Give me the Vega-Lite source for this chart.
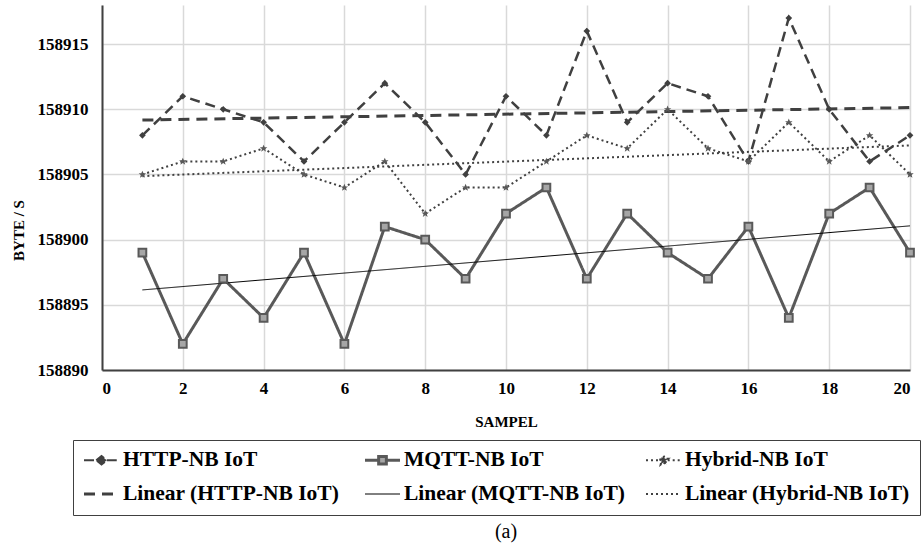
{
  "$schema": "https://vega.github.io/schema/vega-lite/v6.json",
  "autosize": "none",
  "width": 808,
  "height": 365,
  "padding": {"left": 102, "top": 5, "right": 11, "bottom": 179},
  "background": "white",
  "title": {"text": "(a)", "orient": "bottom", "font": "Liberation Serif", "fontSize": 20, "fontWeight": "normal", "color": "black", "offset": 6},
  "config": {
    "view": {"stroke": null},
    "axis": {"labelFont": "Liberation Serif", "labelFontWeight": "bold", "labelColor": "black", "titleFont": "Liberation Serif", "titleFontWeight": "bold", "titleColor": "black", "gridColor": "#d9d9d9", "gridWidth": 1.5, "domainColor": "#404040", "domainWidth": 2, "ticks": false}
  },
  "datasets": {"d": [
    {"x":1,"series":"HTTP-NB IoT","trend":"Linear (HTTP-NB IoT)","value":158908},
    {"x":2,"series":"HTTP-NB IoT","trend":"Linear (HTTP-NB IoT)","value":158911},
    {"x":3,"series":"HTTP-NB IoT","trend":"Linear (HTTP-NB IoT)","value":158910},
    {"x":4,"series":"HTTP-NB IoT","trend":"Linear (HTTP-NB IoT)","value":158909},
    {"x":5,"series":"HTTP-NB IoT","trend":"Linear (HTTP-NB IoT)","value":158906},
    {"x":6,"series":"HTTP-NB IoT","trend":"Linear (HTTP-NB IoT)","value":158909},
    {"x":7,"series":"HTTP-NB IoT","trend":"Linear (HTTP-NB IoT)","value":158912},
    {"x":8,"series":"HTTP-NB IoT","trend":"Linear (HTTP-NB IoT)","value":158909},
    {"x":9,"series":"HTTP-NB IoT","trend":"Linear (HTTP-NB IoT)","value":158905},
    {"x":10,"series":"HTTP-NB IoT","trend":"Linear (HTTP-NB IoT)","value":158911},
    {"x":11,"series":"HTTP-NB IoT","trend":"Linear (HTTP-NB IoT)","value":158908},
    {"x":12,"series":"HTTP-NB IoT","trend":"Linear (HTTP-NB IoT)","value":158916},
    {"x":13,"series":"HTTP-NB IoT","trend":"Linear (HTTP-NB IoT)","value":158909},
    {"x":14,"series":"HTTP-NB IoT","trend":"Linear (HTTP-NB IoT)","value":158912},
    {"x":15,"series":"HTTP-NB IoT","trend":"Linear (HTTP-NB IoT)","value":158911},
    {"x":16,"series":"HTTP-NB IoT","trend":"Linear (HTTP-NB IoT)","value":158906},
    {"x":17,"series":"HTTP-NB IoT","trend":"Linear (HTTP-NB IoT)","value":158917},
    {"x":18,"series":"HTTP-NB IoT","trend":"Linear (HTTP-NB IoT)","value":158910},
    {"x":19,"series":"HTTP-NB IoT","trend":"Linear (HTTP-NB IoT)","value":158906},
    {"x":20,"series":"HTTP-NB IoT","trend":"Linear (HTTP-NB IoT)","value":158908},
    {"x":1,"series":"MQTT-NB IoT","trend":"Linear (MQTT-NB IoT)","value":158899},
    {"x":2,"series":"MQTT-NB IoT","trend":"Linear (MQTT-NB IoT)","value":158892},
    {"x":3,"series":"MQTT-NB IoT","trend":"Linear (MQTT-NB IoT)","value":158897},
    {"x":4,"series":"MQTT-NB IoT","trend":"Linear (MQTT-NB IoT)","value":158894},
    {"x":5,"series":"MQTT-NB IoT","trend":"Linear (MQTT-NB IoT)","value":158899},
    {"x":6,"series":"MQTT-NB IoT","trend":"Linear (MQTT-NB IoT)","value":158892},
    {"x":7,"series":"MQTT-NB IoT","trend":"Linear (MQTT-NB IoT)","value":158901},
    {"x":8,"series":"MQTT-NB IoT","trend":"Linear (MQTT-NB IoT)","value":158900},
    {"x":9,"series":"MQTT-NB IoT","trend":"Linear (MQTT-NB IoT)","value":158897},
    {"x":10,"series":"MQTT-NB IoT","trend":"Linear (MQTT-NB IoT)","value":158902},
    {"x":11,"series":"MQTT-NB IoT","trend":"Linear (MQTT-NB IoT)","value":158904},
    {"x":12,"series":"MQTT-NB IoT","trend":"Linear (MQTT-NB IoT)","value":158897},
    {"x":13,"series":"MQTT-NB IoT","trend":"Linear (MQTT-NB IoT)","value":158902},
    {"x":14,"series":"MQTT-NB IoT","trend":"Linear (MQTT-NB IoT)","value":158899},
    {"x":15,"series":"MQTT-NB IoT","trend":"Linear (MQTT-NB IoT)","value":158897},
    {"x":16,"series":"MQTT-NB IoT","trend":"Linear (MQTT-NB IoT)","value":158901},
    {"x":17,"series":"MQTT-NB IoT","trend":"Linear (MQTT-NB IoT)","value":158894},
    {"x":18,"series":"MQTT-NB IoT","trend":"Linear (MQTT-NB IoT)","value":158902},
    {"x":19,"series":"MQTT-NB IoT","trend":"Linear (MQTT-NB IoT)","value":158904},
    {"x":20,"series":"MQTT-NB IoT","trend":"Linear (MQTT-NB IoT)","value":158899},
    {"x":1,"series":"Hybrid-NB IoT","trend":"Linear (Hybrid-NB IoT)","value":158905},
    {"x":2,"series":"Hybrid-NB IoT","trend":"Linear (Hybrid-NB IoT)","value":158906},
    {"x":3,"series":"Hybrid-NB IoT","trend":"Linear (Hybrid-NB IoT)","value":158906},
    {"x":4,"series":"Hybrid-NB IoT","trend":"Linear (Hybrid-NB IoT)","value":158907},
    {"x":5,"series":"Hybrid-NB IoT","trend":"Linear (Hybrid-NB IoT)","value":158905},
    {"x":6,"series":"Hybrid-NB IoT","trend":"Linear (Hybrid-NB IoT)","value":158904},
    {"x":7,"series":"Hybrid-NB IoT","trend":"Linear (Hybrid-NB IoT)","value":158906},
    {"x":8,"series":"Hybrid-NB IoT","trend":"Linear (Hybrid-NB IoT)","value":158902},
    {"x":9,"series":"Hybrid-NB IoT","trend":"Linear (Hybrid-NB IoT)","value":158904},
    {"x":10,"series":"Hybrid-NB IoT","trend":"Linear (Hybrid-NB IoT)","value":158904},
    {"x":11,"series":"Hybrid-NB IoT","trend":"Linear (Hybrid-NB IoT)","value":158906},
    {"x":12,"series":"Hybrid-NB IoT","trend":"Linear (Hybrid-NB IoT)","value":158908},
    {"x":13,"series":"Hybrid-NB IoT","trend":"Linear (Hybrid-NB IoT)","value":158907},
    {"x":14,"series":"Hybrid-NB IoT","trend":"Linear (Hybrid-NB IoT)","value":158910},
    {"x":15,"series":"Hybrid-NB IoT","trend":"Linear (Hybrid-NB IoT)","value":158907},
    {"x":16,"series":"Hybrid-NB IoT","trend":"Linear (Hybrid-NB IoT)","value":158906},
    {"x":17,"series":"Hybrid-NB IoT","trend":"Linear (Hybrid-NB IoT)","value":158909},
    {"x":18,"series":"Hybrid-NB IoT","trend":"Linear (Hybrid-NB IoT)","value":158906},
    {"x":19,"series":"Hybrid-NB IoT","trend":"Linear (Hybrid-NB IoT)","value":158908},
    {"x":20,"series":"Hybrid-NB IoT","trend":"Linear (Hybrid-NB IoT)","value":158905}
  ]},
  "data": {"name": "d"},
  "encoding": {
    "x": {"field": "x", "type": "quantitative",
      "scale": {"domain": [0, 20], "nice": false, "zero": false},
      "axis": {"values": [0,2,4,6,8,10,12,14,16,18,20], "title": "SAMPEL", "titleFontSize": 15, "titlePadding": 18, "labelFontSize": 17, "labelPadding": 10, "grid": true}},
    "y": {"field": "value", "type": "quantitative",
      "scale": {"domain": [158890, 158918], "nice": false, "zero": false},
      "axis": {"values": [158890,158895,158900,158905,158910,158915], "format": "d", "title": "BYTE / S", "titleFontSize": 15, "titleX": -84, "titleY": 225, "titleBaseline": "middle", "labelFontSize": 17, "labelPadding": 14, "grid": true}}
  },
  "layer": [
    {
      "transform": [{"filter": "datum.series === 'HTTP-NB IoT'"}],
      "mark": {"type": "line", "color": "#404040", "strokeWidth": 2.5},
      "encoding": {
        "strokeDash": {"field": "series", "type": "nominal",
          "scale": {"domain": ["HTTP-NB IoT","MQTT-NB IoT","Hybrid-NB IoT","Linear (HTTP-NB IoT)","Linear (MQTT-NB IoT)","Linear (Hybrid-NB IoT)"],
                    "range": [[10,6],[1,0],[2,3],[11,7],[1,0],[2,3]]},
          "legend": {"title": null, "orient": "none", "legendX": -29, "legendY": 435, "direction": "horizontal", "columns": 3, "gridAlign": "all",
            "columnPadding": 16, "rowPadding": 12, "padding": 10, "strokeColor": "#404040", "fillColor": "white",
            "labelFont": "Liberation Serif", "labelFontWeight": "bold", "labelFontSize": 21.5, "labelColor": "black", "labelOffset": 3, "labelLimit": 400,
            "symbolSize": 1225, "symbolStrokeColor": "#404040", "symbolStrokeWidth": 2, "clipHeight": 20,
            "encode": {"symbols": {"update": {
              "size": {"value": 1225},
              "shape": {"signal": "(datum.value === 'HTTP-NB IoT' ? 'M-1,0H-0.3M0.3,0H1M-0.3,0L0,-0.24L0.3,0L0,0.24Z' : datum.value === 'MQTT-NB IoT' ? 'M-1,0H-0.22M0.22,0H1M-0.22,-0.22H0.22V0.22H-0.22Z' : datum.value === 'Hybrid-NB IoT' ? 'M-1,0H-0.24M0.24,0H1M0,-0.26L0.08,-0.09L0.26,-0.09L0.11,0.03L0.16,0.24L0,0.12L-0.16,0.24L-0.11,0.03L-0.26,-0.09L-0.08,-0.09Z' : 'M-1,0H1')"},
              "stroke": {"signal": "(datum.value === 'Linear (MQTT-NB IoT)' ? '#000000' : datum.value === 'MQTT-NB IoT' ? '#595959' : '#404040')"},
              "fill": {"signal": "(datum.value === 'MQTT-NB IoT' ? '#a6a6a6' : (datum.value === 'HTTP-NB IoT' || datum.value === 'Hybrid-NB IoT') ? '#404040' : 'transparent')"},
              "strokeWidth": {"signal": "(datum.value === 'Linear (MQTT-NB IoT)' ? 1 : (datum.value === 'Linear (HTTP-NB IoT)' || datum.value === 'MQTT-NB IoT') ? 3 : 2)"},
              "strokeDash": {"signal": "((datum.value === 'HTTP-NB IoT' || datum.value === 'MQTT-NB IoT' || datum.value === 'Linear (MQTT-NB IoT)') ? [1,0] : datum.value === 'Linear (HTTP-NB IoT)' ? [11,7] : [2,3])"}
            }}}
          }}
      }
    },
    {
      "transform": [{"filter": "datum.series === 'MQTT-NB IoT'"}],
      "mark": {"type": "line", "color": "#595959", "strokeWidth": 3},
      "encoding": {"strokeDash": {"field": "series", "type": "nominal", "legend": null}}
    },
    {
      "transform": [{"filter": "datum.series === 'Hybrid-NB IoT'"}],
      "mark": {"type": "line", "color": "#404040", "strokeWidth": 2},
      "encoding": {"strokeDash": {"field": "series", "type": "nominal", "legend": null}}
    },
    {
      "transform": [{"filter": "datum.series === 'HTTP-NB IoT'"}, {"regression": "value", "on": "x", "groupby": ["trend"], "method": "linear", "extent": [1, 20]}],
      "mark": {"type": "line", "color": "#404040", "strokeWidth": 3},
      "encoding": {"strokeDash": {"field": "trend", "type": "nominal", "legend": null}}
    },
    {
      "transform": [{"filter": "datum.series === 'MQTT-NB IoT'"}, {"regression": "value", "on": "x", "groupby": ["trend"], "method": "linear", "extent": [1, 20]}],
      "mark": {"type": "line", "color": "#000000", "strokeWidth": 1},
      "encoding": {"strokeDash": {"field": "trend", "type": "nominal", "legend": null}}
    },
    {
      "transform": [{"filter": "datum.series === 'Hybrid-NB IoT'"}, {"regression": "value", "on": "x", "groupby": ["trend"], "method": "linear", "extent": [1, 20]}],
      "mark": {"type": "line", "color": "#404040", "strokeWidth": 2},
      "encoding": {"strokeDash": {"field": "trend", "type": "nominal", "legend": null}}
    },
    {
      "transform": [{"filter": "datum.series === 'HTTP-NB IoT'"}],
      "mark": {"type": "point", "shape": "diamond", "filled": true, "color": "#404040", "size": 45, "opacity": 1},
      "encoding": {}
    },
    {
      "transform": [{"filter": "datum.series === 'MQTT-NB IoT'"}],
      "mark": {"type": "point", "shape": "square", "filled": true, "fill": "#a6a6a6", "stroke": "#595959", "strokeWidth": 2, "size": 60, "opacity": 1},
      "encoding": {}
    },
    {
      "transform": [{"filter": "datum.series === 'Hybrid-NB IoT'"}],
      "mark": {"type": "point", "shape": "M0,-1L0.3,-0.3L1,-0.3L0.45,0.15L0.65,0.9L0,0.45L-0.65,0.9L-0.45,0.15L-1,-0.3L-0.3,-0.3Z", "filled": true, "color": "#595959", "size": 55, "opacity": 1},
      "encoding": {}
    }
  ]
}
